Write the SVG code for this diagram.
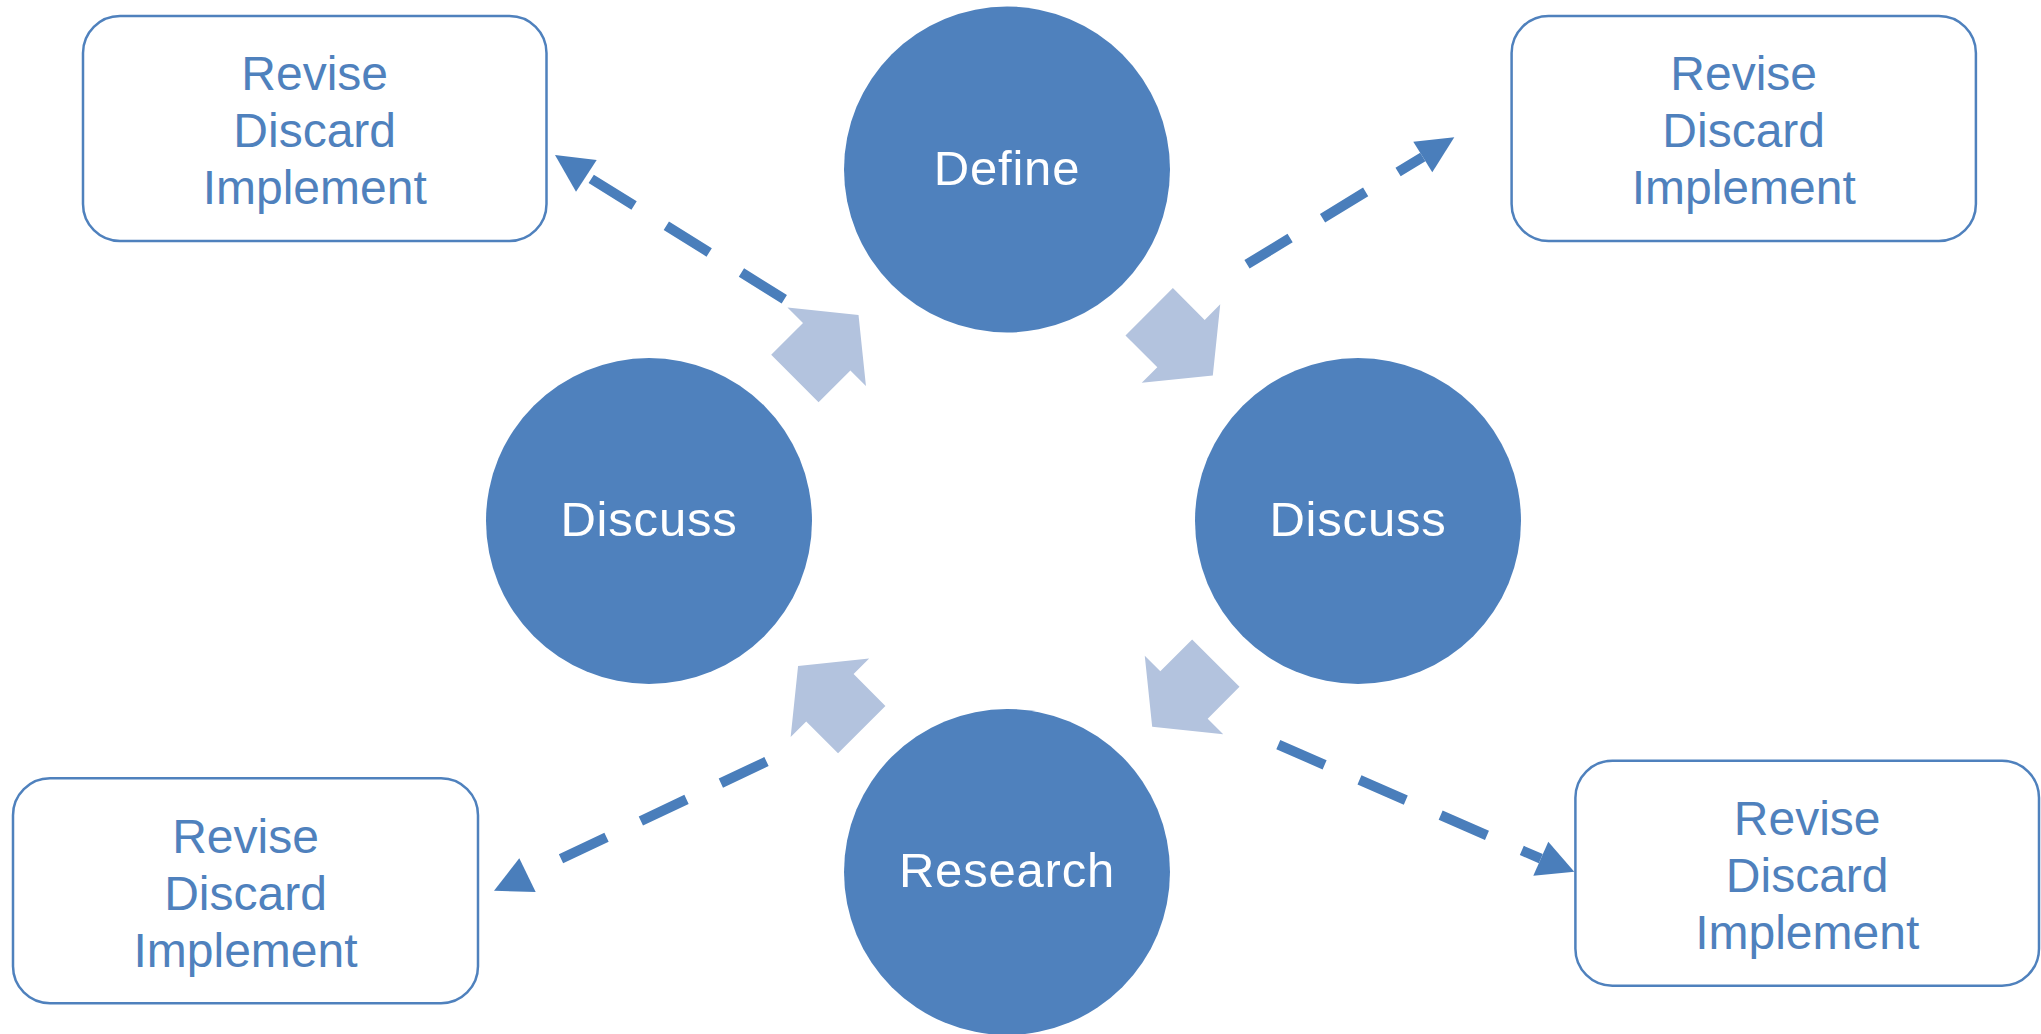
<svg xmlns="http://www.w3.org/2000/svg" xmlns:xlink="http://www.w3.org/1999/xlink" width="2041" height="1034" viewBox="0 0 2041 1034">
<style>
.circ{fill:#4F81BD}
.ctext{fill:#FFFFFF;font-family:"Liberation Sans",Arial,sans-serif;font-size:49px;letter-spacing:0.8px;text-anchor:middle}
.box{fill:#FFFFFF;stroke:#4F81BD;stroke-width:2.5}
.btext{fill:#4F81BD;font-family:"Liberation Sans",Arial,sans-serif;font-size:48px;text-anchor:middle}
.dash{fill:none;stroke:#4A7EBB;stroke-width:10;stroke-dasharray:50.5 38;stroke-linecap:butt}
.head{fill:#4A7EBB}
.flow{fill:#B3C3DE}
</style>
<defs>
<polygon id="blockArrow" points="-45,-33.5 0,-33.5 0,-55.5 45,0 0,55.5 0,33.5 -45,33.5"/>
</defs>
<rect width="2041" height="1034" fill="#FFFFFF"/>

<g id="connectors">
<use xlink:href="#blockArrow" href="#blockArrow" class="flow" transform="translate(826.7,346.7) rotate(-45)"/>
<use xlink:href="#blockArrow" href="#blockArrow" class="flow" transform="translate(1181,343.6) rotate(45)"/>
<use xlink:href="#blockArrow" href="#blockArrow" class="flow" transform="translate(1184,695) rotate(135)"/>
<use xlink:href="#blockArrow" href="#blockArrow" class="flow" transform="translate(829.9,697.8) rotate(-135)"/>

<line class="dash" x1="784.3" y1="299.2" x2="586.3" y2="175.8"/>
<polygon class="head" points="555,155 596.7,160 576,191.7"/>

<line class="dash" x1="1247" y1="264.3" x2="1422.8" y2="157"/>
<polygon class="head" points="1454.3,137.3 1413.3,141.7 1432.3,172.3"/>

<line class="dash" x1="766.5" y1="761.5" x2="561" y2="858.8"/>
<polygon class="head" points="519.3,858.3 494,890.7 535.7,892"/>

<line class="dash" x1="1278.3" y1="744.7" x2="1540.8" y2="858.7"/>
<polygon class="head" points="1574.3,871.7 1548.3,841.7 1533.3,875.7"/>
</g>

<g id="node-define">
<circle class="circ" cx="1007" cy="169.5" r="163"/>
<text class="ctext" x="1007" y="185">Define</text>
</g>
<g id="node-discuss-left">
<circle class="circ" cx="649" cy="521" r="163"/>
<text class="ctext" x="649" y="536">Discuss</text>
</g>
<g id="node-discuss-right">
<circle class="circ" cx="1358" cy="521" r="163"/>
<text class="ctext" x="1358" y="536">Discuss</text>
</g>
<g id="node-research">
<circle class="circ" cx="1007" cy="872" r="163"/>
<text class="ctext" x="1007" y="887">Research</text>
</g>

<g id="box-top-left">
<rect class="box" x="83" y="16" width="463.5" height="225" rx="37" ry="37"/>
<text class="btext" x="314.7" y="90">Revise</text>
<text class="btext" x="314.7" y="147">Discard</text>
<text class="btext" x="314.7" y="204">Implement</text>
</g>
<g id="box-top-right">
<rect class="box" x="1511.6" y="16" width="464.3" height="225" rx="37" ry="37"/>
<text class="btext" x="1743.7" y="90">Revise</text>
<text class="btext" x="1743.7" y="147">Discard</text>
<text class="btext" x="1743.7" y="204">Implement</text>
</g>
<g id="box-bottom-left">
<rect class="box" x="13" y="778.3" width="465" height="225" rx="37" ry="37"/>
<text class="btext" x="245.5" y="853">Revise</text>
<text class="btext" x="245.5" y="910">Discard</text>
<text class="btext" x="245.5" y="967">Implement</text>
</g>
<g id="box-bottom-right">
<rect class="box" x="1575.4" y="760.7" width="463.6" height="225" rx="37" ry="37"/>
<text class="btext" x="1807.2" y="835">Revise</text>
<text class="btext" x="1807.2" y="892">Discard</text>
<text class="btext" x="1807.2" y="949">Implement</text>
</g>
</svg>
